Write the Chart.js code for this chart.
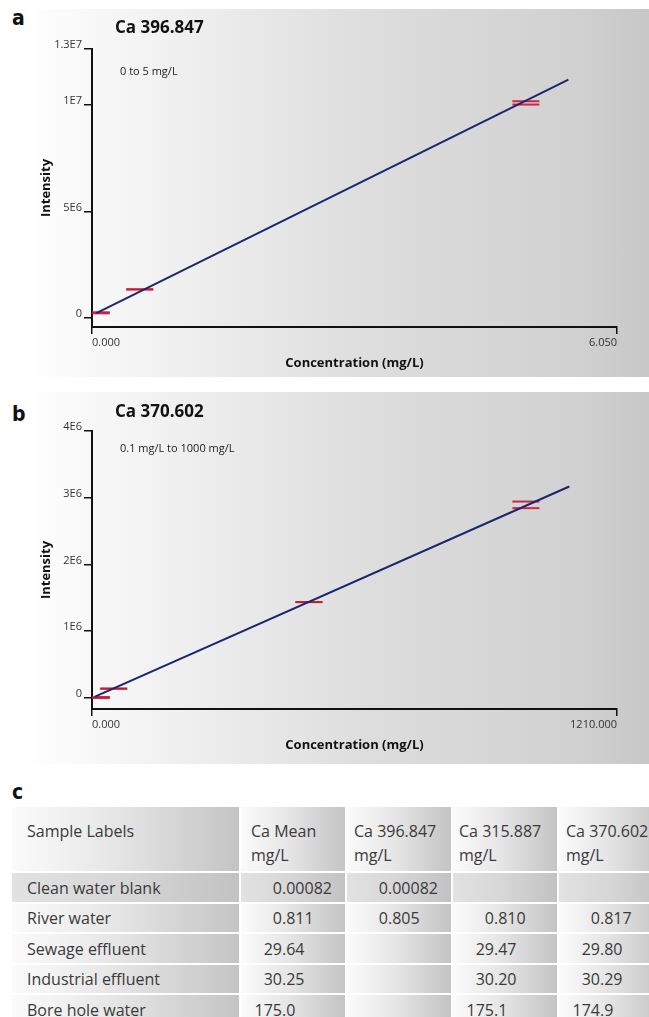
<!DOCTYPE html>
<html>
<head>
<meta charset="utf-8">
<script src="https://cdn.jsdelivr.net/npm/chart.js@4.4.0/dist/chart.umd.min.js"></script>
<style>
  body { margin: 0; background: #fff; width: 649px; height: 1017px; overflow: hidden; position: relative; font-family: 'Open Sans', sans-serif; color: #222; }
  .panel { position: absolute; left: 33px; width: 616px;
    background: linear-gradient(to right, #fefefe 0%, #f3f3f3 18%, #dddddd 55%, #d1d1d1 88%, #c7c7c7 100%); }
  #pa { top: 9px; height: 368px; }
  #pb { top: 392px; height: 372px; }
  .panel canvas { position: absolute; left: 0; top: 0; }
  .letter { position: absolute; left: 12px; font: bold 21px/21px 'Liberation Sans Narrow', 'DejaVu Sans Condensed', sans-serif; color: #111; }
  .ptitle { position: absolute; left: 82px; font-weight: bold; font-size: 17px; line-height: 17px; color: #111; }
  .psub { position: absolute; left: 87px; font-size: 11px; line-height: 11px; color: #222; }
  #tbl { position: absolute; left: 10px; top: 805px; width: 655px; table-layout: fixed; border-collapse: separate; border-spacing: 2px; font-size: 16px; color: #3a3a3a; }
  #tbl td { padding: 0; vertical-align: middle; white-space: nowrap; overflow: hidden;
    background: linear-gradient(to right, #fbfbfb 0%, #e6e6e6 45%, #c4c4c4 100%); }
  #tbl tr.r1 td { background: linear-gradient(to right, #e2e2e2 0%, #d6d6d6 50%, #c2c2c2 100%); }
  #tbl tr.hd td { vertical-align: top; line-height: 24px; padding-top: 12px; }
  #tbl td.lab { padding-left: 15px; }
  .ip { display: inline-block; width: 41px; text-align: right; }
</style>
</head>
<body>
<div class="letter" style="top:8px">a</div>
<div class="letter" style="top:404px">b</div>
<div class="letter" style="top:782px">c</div>

<div class="panel" id="pa">
  <canvas id="chartA" width="616" height="368"></canvas>
  <div class="ptitle" style="top:9px">Ca 396.847</div>
  <div class="psub" style="top:56px">0 to 5 mg/L</div>
</div>

<div class="panel" id="pb">
  <canvas id="chartB" width="616" height="372"></canvas>
  <div class="ptitle" style="top:10px">Ca 370.602</div>
  <div class="psub" style="top:50px">0.1 mg/L to 1000 mg/L</div>
</div>

<table id="tbl">
  <colgroup><col style="width:227px"><col style="width:104px"><col style="width:104px"><col style="width:104px"><col style="width:104px"></colgroup>
  <tbody id="tbody"></tbody>
</table>

<script>
// Panel a - Ca 396.847 calibration (0 to 5 mg/L)
const concA = [0.05, 0.55, 5.0];
const rep1A = [2.8e5, 1.35e6, 1.0155e7];
const rep2A = [2.3e5, 1.35e6, 1.0e7];
const fitConcA = [0.05, 5.49];
const fitIntA = [2.35e5, 1.117e7];
const xTicksA = [0, 6.05];
const xLabelsA = ['0.000', '6.050'];
const yTicksA = [0, 5e6, 1e7, 1.26e7];
const yLabelsA = ['0', '5E6', '1E7', '1.3E7'];
const yRangeA = [-4.1e5, 1.26e7];

// Panel b - Ca 370.602 calibration (0.1 to 1000 mg/L)
const concB = [10, 50, 500, 1000];
const rep1B = [1.5e4, 1.4e5, 1.437e6, 2.943e6];
const rep2B = [0, 1.4e5, 1.437e6, 2.844e6];
const fitConcB = [7, 1100];
const fitIntB = [2e4, 3.168e6];
const xTicksB = [0, 1210];
const xLabelsB = ['0.000', '1210.000'];
const yTicksB = [0, 1e6, 2e6, 3e6, 4e6];
const yLabelsB = ['0', '1E6', '2E6', '3E6', '4E6'];
const yRangeB = [-1.65e5, 4e6];

// Panel c - results table
const tableHeaders = ['Sample Labels', 'Ca Mean', 'Ca 396.847', 'Ca 315.887', 'Ca 370.602'];
const sampleLabels = ['Clean water blank', 'River water', 'Sewage effluent', 'Industrial effluent', 'Bore hole water'];
const caMean = ['0.00082', '0.811', '29.64', '30.25', '175.0'];
const ca396 = ['0.00082', '0.805', '', '', ''];
const ca315 = ['', '0.810', '29.47', '30.20', '175.1'];
const ca370 = ['', '0.817', '29.80', '30.29', '174.9'];

const NAVY = '#1c2670';
const RED = 'rgba(204, 24, 52, 0.92)';

function pts(xs, ys) {
  return xs.map((x, i) => ({ x: x, y: ys[i] }));
}

function makeChart(id, cfg) {
  const markerSet = (data) => ({
    type: 'scatter',
    data: data,
    pointStyle: 'line',
    radius: 13.5,
    borderColor: RED,
    borderWidth: 2,
    backgroundColor: RED
  });

  return new Chart(document.getElementById(id), {
    type: 'scatter',
    data: {
      datasets: [
        {
          type: 'line',
          data: pts(cfg.fitX, cfg.fitY),
          borderColor: NAVY,
          borderWidth: 2,
          pointRadius: 0,
          tension: 0
        },
        markerSet(pts(cfg.conc, cfg.rep1)),
        markerSet(pts(cfg.conc, cfg.rep2))
      ]
    },
    options: {
      responsive: false,
      animation: false,
      layout: { padding: { left: 0, right: 32, top: cfg.top, bottom: 0 } },
      plugins: { legend: { display: false }, tooltip: { enabled: false } },
      scales: {
        x: {
          type: 'linear',
          min: cfg.xTicks[0],
          max: cfg.xTicks[cfg.xTicks.length - 1],
          afterBuildTicks: (s) => { s.ticks = cfg.xTicks.map(v => ({ value: v })); },
          afterFit: (s) => { s.height = cfg.xHeight; },
          ticks: {
            autoSkip: false,
            maxRotation: 0,
            align: 'inner',
            padding: 2,
            color: '#333',
            font: { family: 'Open Sans', size: 11 },
            callback: (v, i) => cfg.xLabels[i]
          },
          grid: { drawOnChartArea: false, drawTicks: true, tickLength: 7, color: '#111', lineWidth: 1.5 },
          border: { display: true, color: '#111', width: 2 },
          title: {
            display: true,
            text: 'Concentration (mg/L)',
            color: '#111',
            font: { family: 'Open Sans', size: 13, weight: 'bold' },
            padding: { top: 0, bottom: cfg.titlePad }
          }
        },
        y: {
          type: 'linear',
          min: cfg.yRange[0],
          max: cfg.yRange[1],
          afterBuildTicks: (s) => { s.ticks = cfg.yTicks.map(v => ({ value: v })); },
          afterFit: (s) => { s.width = 59; },
          ticks: {
            autoSkip: false,
            padding: 2,
            labelOffset: -4,
            color: '#333',
            font: { family: 'Open Sans', size: 11 },
            callback: (v, i) => cfg.yLabels[i]
          },
          grid: { drawOnChartArea: false, drawTicks: true, tickLength: 8, color: '#111', lineWidth: 1.5 },
          border: { display: true, color: '#111', width: 2 },
          title: {
            display: true,
            text: 'Intensity',
            color: '#111',
            font: { family: 'Open Sans', size: 13, weight: 'bold' },
            padding: { top: 5, bottom: 0 }
          }
        }
      }
    }
  });
}

makeChart('chartA', {
  conc: concA, rep1: rep1A, rep2: rep2A, fitX: fitConcA, fitY: fitIntA,
  xTicks: xTicksA, xLabels: xLabelsA, yTicks: yTicksA, yLabels: yLabelsA, yRange: yRangeA,
  top: 40, xHeight: 50, titlePad: 6
});

makeChart('chartB', {
  conc: concB, rep1: rep1B, rep2: rep2B, fitX: fitConcB, fitY: fitIntB,
  xTicks: xTicksB, xLabels: xLabelsB, yTicks: yTicksB, yLabels: yLabelsB, yRange: yRangeB,
  top: 39, xHeight: 55, titlePad: 11
});

// table
function numCell(v) {
  if (!v) return '<td></td>';
  const k = v.indexOf('.');
  return '<td><span class="ip">' + v.slice(0, k) + '</span>' + v.slice(k) + '</td>';
}

const rowHeights = [29, 28, 29, 28, 29];
const headPad = [10, 7, 6, 7];
let html = '<tr class="hd" style="height:64px"><td class="lab">' + tableHeaders[0] + '</td>';
tableHeaders.slice(1).forEach((h, i) => {
  html += '<td style="padding-left:' + headPad[i] + 'px">' + h + '<br>mg/L</td>';
});
html += '</tr>';
sampleLabels.forEach((lab, i) => {
  html += '<tr class="' + (i === 0 ? 'r1' : '') + '" style="height:' + rowHeights[i] + 'px">';
  html += '<td class="lab">' + lab + '</td>';
  html += numCell(caMean[i]) + numCell(ca396[i]) + numCell(ca315[i]) + numCell(ca370[i]);
  html += '</tr>';
});
document.getElementById('tbody').innerHTML = html;
</script>
</body>
</html>
